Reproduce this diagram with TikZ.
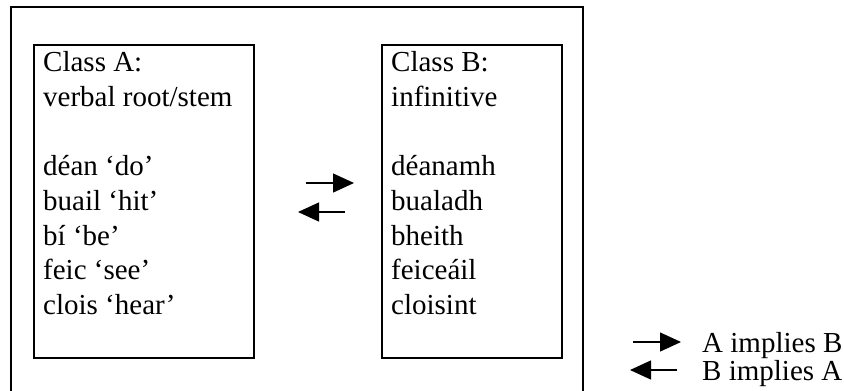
\documentclass[tikz,border=0pt]{standalone}
\usepackage{fontspec}
\setmainfont{Liberation Serif}
\usetikzlibrary{arrows.meta}

\tikzset{
    wordbox/.style={draw, line width=2pt, minimum width=220pt, minimum height=313pt, anchor=north west, inner sep=0pt},
    wordlist/.style={anchor=base west, align=left, inner sep=0pt, font=\fontsize{29}{34.7}\selectfont},
    legendtext/.style={anchor=base west, inner sep=0pt, font=\fontsize{29}{34.7}\selectfont},
    implies/.style={-{Triangle[length=21pt, width=19pt]}, line width=1.3pt}
}

\begin{document}
\begin{tikzpicture}[x=1pt, y=-1pt]
    \useasboundingbox (0,0) rectangle (844,391);
    % open frame, its bottom edge runs off the page
    \draw [line width=2pt] (11,391) |- (583,7) -- (583,391);
    % the two classes (word lists sit on the baseline of their last line)
    \node[wordbox] (classA) at (33,44) {};
    \node[wordbox, minimum width=180pt] (classB) at (381,44) {};
    \node[wordlist] (listA) at (43,314.5) {Class A:\\verbal root/stem\\ \\déan ‘do’\\buail ‘hit’\\bí ‘be’\\feic ‘see’\\clois ‘hear’};
    \node[wordlist] (listB) at (391,314.5) {Class B:\\infinitive\\ \\déanamh\\bualadh\\bheith\\feiceáil\\cloisint};
    % arrows between the classes
    \coordinate (abTail) at (306,183);
    \coordinate (abHead) at (354,183);
    \coordinate (baTail) at (345,212);
    \coordinate (baHead) at (298,212);
    \draw [implies] (abTail) -- (abHead);
    \draw [implies] (baTail) -- (baHead);
    % key
    \coordinate (keyAbTail) at (633,342);
    \coordinate (keyAbHead) at (681,342);
    \coordinate (keyBaTail) at (677,370);
    \coordinate (keyBaHead) at (630,370);
    \draw [implies] (keyAbTail) -- (keyAbHead);
    \draw [implies] (keyBaTail) -- (keyBaHead);
    \node[legendtext] (keyAB) at (702,352) {A implies B};
    \node[legendtext] (keyBA) at (702,380) {B implies A};
\end{tikzpicture}
\end{document}
